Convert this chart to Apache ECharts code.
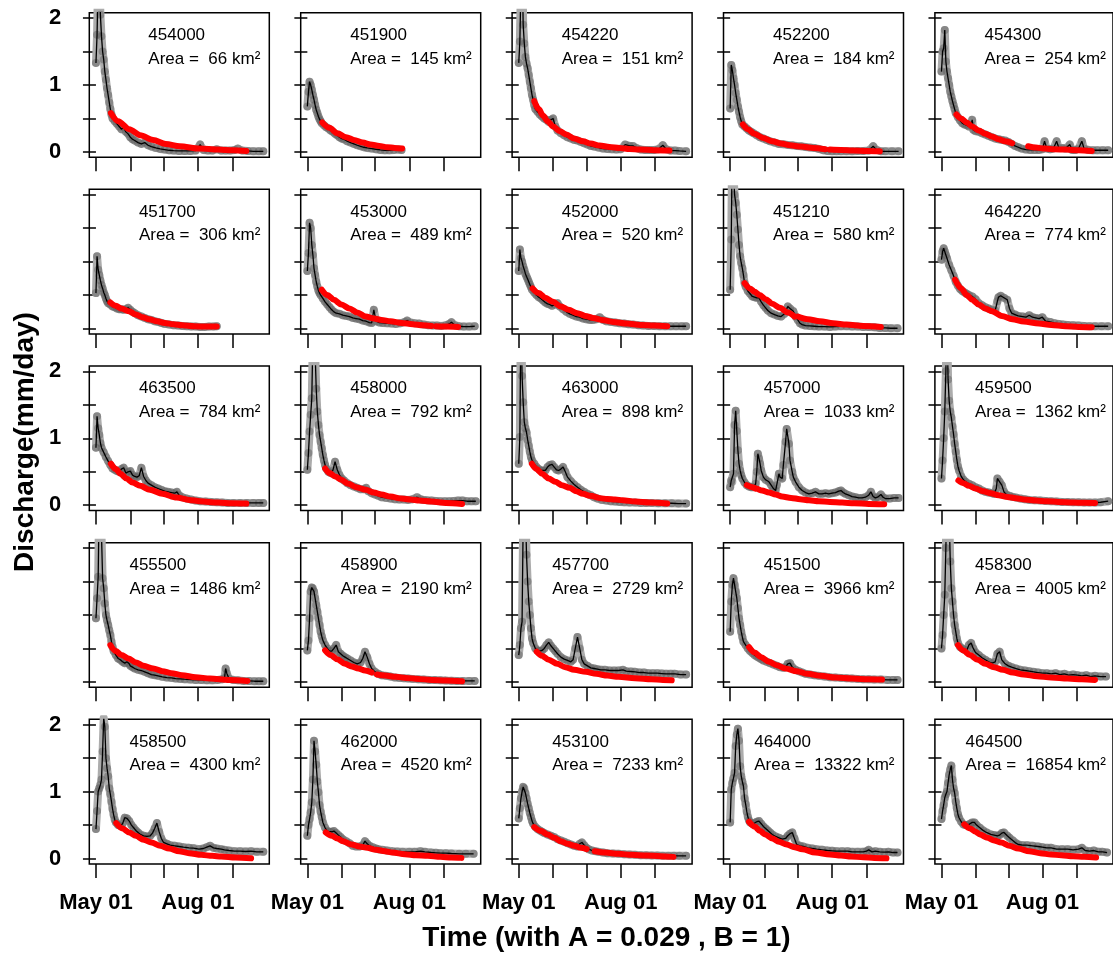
<!DOCTYPE html>
<html><head><meta charset="utf-8">
<script src="https://cdn.jsdelivr.net/npm/echarts@6/dist/echarts.min.js"></script>
<style>html,body{margin:0;padding:0;background:#fff}#c{width:1113px;height:958px}</style>
</head><body><div id="c"></div>
<script>
// Station ids and catchment areas (km2), panel order left-to-right, top-to-bottom
const stations = ['454000','451900','454220','452200','454300','451700','453000','452000','451210','464220','463500','458000','463000','457000','459500','455500','458900','457700','451500','458300','458500','462000','453100','464000','464500'];
const areas = [66,145,151,184,254,306,489,520,580,774,784,792,898,1033,1362,1486,2190,2729,3966,4005,4300,4520,7233,13322,16854];
// x values are days after May 01; ticks at month starts
const monthTickDays = [0,31,61,92,123];
const monthLabelDays = [0,92];
const monthLabels = ['May 01','Aug 01'];
const yTickValues = [0,0.5,1,1.5,2];
const yLabelValues = [0,1,2];
const xTitle = 'Time (with A = 0.029 , B = 1)';
const yTitle = 'Discharge(mm/day)';

// observed discharge [day, mm/day]
const obs_454000 = [[0,1.33],[1,1.75],[2,2.6],[3,2.8],[4,2.05],[5,1.73],[6,1.5],[7,1.38],[8,1.2],[9,1.08],[10,0.95],[11,0.85],[12,0.74],[13,0.64],[14,0.56],[15,0.5],[17,0.46],[19,0.42],[21,0.38],[23,0.34],[25,0.37],[27,0.3],[29,0.27],[31,0.22],[33,0.19],[35,0.17],[38,0.14],[41,0.12],[44,0.14],[47,0.1],[50,0.08],[54,0.06],[58,0.045],[62,0.035],[66,0.025],[70,0.02],[75,0.015],[80,0.015],[85,0.015],[90,0.02],[94,0.11],[97,0.03],[101,0.02],[105,0.02],[109,0.04],[113,0.02],[117,0.02],[121,0.02],[125,0.03],[128,0.05],[132,0.02],[137,0.015],[142,0.01],[147,0.01],[151,0.01]];
const obs_451900 = [[0,0.68],[1,0.9],[2,1.05],[3,1.0],[4,0.93],[5,0.85],[6,0.78],[7,0.7],[8,0.63],[9,0.58],[10,0.53],[11,0.49],[12,0.46],[13,0.43],[15,0.4],[17,0.37],[19,0.35],[21,0.32],[23,0.3],[25,0.27],[27,0.25],[29,0.22],[31,0.2],[33,0.19],[36,0.16],[39,0.14],[42,0.12],[45,0.1],[48,0.085],[51,0.07],[54,0.06],[58,0.05],[62,0.04],[66,0.03],[70,0.025],[74,0.025],[78,0.03],[82,0.035],[85,0.03]];
const obs_454220 = [[0,1.33],[1,1.65],[2,2.5],[3,2.9],[4,1.9],[5,1.62],[6,1.42],[7,1.32],[8,1.25],[9,1.15],[10,1.05],[11,0.95],[12,0.85],[13,0.78],[14,0.7],[15,0.64],[17,0.6],[19,0.56],[21,0.53],[23,0.5],[25,0.48],[27,0.45],[29,0.48],[31,0.5],[33,0.38],[35,0.32],[38,0.28],[41,0.25],[44,0.22],[47,0.2],[50,0.18],[53,0.17],[56,0.15],[59,0.13],[62,0.11],[65,0.09],[68,0.08],[72,0.065],[76,0.05],[80,0.045],[84,0.04],[88,0.035],[92,0.04],[96,0.11],[100,0.09],[103,0.09],[106,0.06],[110,0.035],[114,0.03],[118,0.03],[122,0.03],[126,0.04],[130,0.1],[133,0.04],[137,0.02],[141,0.02],[145,0.015],[151,0.01]];
const obs_452200 = [[0,0.65],[1,1.3],[2,1.22],[3,1.1],[4,1.0],[5,0.88],[6,0.78],[7,0.68],[8,0.6],[9,0.52],[10,0.46],[11,0.41],[13,0.38],[15,0.35],[17,0.32],[19,0.3],[21,0.28],[24,0.25],[27,0.22],[30,0.2],[33,0.18],[36,0.16],[40,0.14],[44,0.12],[48,0.115],[52,0.105],[56,0.1],[60,0.09],[64,0.085],[68,0.075],[72,0.065],[76,0.06],[80,0.045],[84,0.025],[88,0.015],[92,0.01],[96,0.01],[100,0.01],[105,0.01],[110,0.01],[115,0.015],[120,0.015],[125,0.02],[129,0.085],[132,0.03],[136,0.01],[140,0.01],[146,0.01],[152,0.01]];
const obs_454300 = [[0,1.2],[1,1.5],[2,1.55],[3,1.82],[4,1.35],[5,1.2],[6,1.1],[7,1.0],[8,0.9],[9,0.83],[10,0.76],[11,0.7],[12,0.64],[13,0.58],[15,0.52],[17,0.47],[19,0.43],[21,0.41],[23,0.4],[25,0.38],[27,0.4],[28,0.48],[29,0.33],[31,0.31],[34,0.3],[37,0.28],[40,0.26],[43,0.24],[46,0.22],[49,0.2],[52,0.19],[55,0.18],[58,0.17],[61,0.15],[64,0.12],[67,0.09],[70,0.07],[73,0.05],[77,0.035],[81,0.03],[85,0.03],[89,0.03],[92,0.04],[94,0.16],[96,0.05],[99,0.04],[102,0.05],[105,0.16],[107,0.06],[110,0.06],[113,0.05],[117,0.11],[119,0.03],[122,0.03],[125,0.05],[128,0.16],[130,0.05],[134,0.03],[138,0.025],[142,0.025],[147,0.025],[152,0.025]];
const obs_451700 = [[0,0.53],[1,1.08],[2,0.88],[3,0.8],[4,0.72],[5,0.65],[6,0.6],[7,0.54],[8,0.5],[9,0.45],[10,0.41],[11,0.38],[13,0.36],[15,0.33],[17,0.32],[19,0.3],[21,0.29],[23,0.29],[25,0.28],[27,0.29],[29,0.31],[31,0.28],[33,0.25],[35,0.23],[38,0.2],[41,0.18],[44,0.16],[47,0.14],[50,0.13],[53,0.11],[56,0.1],[59,0.085],[62,0.07],[66,0.06],[70,0.05],[74,0.045],[78,0.04],[82,0.035],[86,0.03],[90,0.03],[94,0.025],[98,0.025],[102,0.03],[106,0.03],[109,0.035]];
const obs_453000 = [[0,0.86],[1,1.13],[2,1.58],[3,1.5],[4,1.25],[5,1.1],[6,0.9],[7,0.8],[8,0.7],[9,0.63],[10,0.57],[11,0.53],[12,0.5],[14,0.45],[16,0.4],[18,0.36],[20,0.32],[22,0.28],[24,0.25],[26,0.23],[29,0.22],[32,0.2],[35,0.19],[38,0.18],[41,0.16],[44,0.15],[47,0.14],[50,0.12],[53,0.11],[56,0.09],[58,0.085],[60,0.28],[62,0.11],[65,0.09],[68,0.085],[72,0.08],[76,0.075],[80,0.07],[84,0.08],[88,0.1],[90,0.12],[93,0.09],[97,0.08],[101,0.075],[105,0.06],[109,0.05],[113,0.045],[117,0.045],[121,0.04],[125,0.05],[128,0.07],[130,0.095],[133,0.05],[137,0.035],[141,0.03],[146,0.03],[151,0.035]];
const obs_452000 = [[0,0.86],[1,1.18],[2,1.05],[3,1.0],[4,0.93],[5,0.88],[6,0.82],[7,0.78],[8,0.74],[9,0.7],[10,0.66],[11,0.62],[12,0.58],[14,0.54],[16,0.5],[18,0.47],[20,0.45],[22,0.42],[24,0.39],[26,0.37],[28,0.36],[30,0.34],[33,0.36],[35,0.38],[37,0.33],[40,0.29],[43,0.25],[46,0.22],[49,0.2],[52,0.18],[55,0.17],[58,0.15],[61,0.14],[64,0.13],[67,0.13],[70,0.14],[73,0.17],[76,0.13],[79,0.11],[83,0.1],[87,0.09],[91,0.08],[95,0.075],[99,0.065],[103,0.06],[108,0.05],[112,0.045],[117,0.04],[122,0.04],[127,0.035],[132,0.035],[137,0.035],[142,0.035],[147,0.035],[151,0.035]];
const obs_451210 = [[0,0.58],[1,1.33],[2,3.0],[3,2.3],[4,2.0],[5,1.88],[6,1.7],[7,1.48],[8,1.25],[9,1.08],[10,0.98],[11,0.9],[12,0.8],[13,0.68],[14,0.63],[16,0.56],[18,0.52],[20,0.48],[22,0.47],[24,0.46],[26,0.46],[28,0.4],[30,0.35],[32,0.31],[34,0.27],[37,0.23],[40,0.21],[43,0.19],[46,0.18],[49,0.22],[52,0.33],[54,0.3],[57,0.26],[59,0.18],[61,0.13],[63,0.08],[65,0.06],[68,0.045],[72,0.04],[76,0.035],[80,0.03],[85,0.03],[90,0.025],[95,0.03],[100,0.035],[105,0.035],[110,0.03],[115,0.03],[120,0.025],[125,0.025],[130,0.02],[135,0.01],[140,0.01],[145,0.005],[151,0.005]];
const obs_464220 = [[0,1.03],[1,1.15],[2,1.2],[3,1.15],[4,1.1],[5,1.05],[7,0.95],[9,0.87],[11,0.79],[13,0.7],[15,0.64],[17,0.59],[19,0.56],[21,0.54],[23,0.52],[25,0.5],[28,0.48],[31,0.44],[34,0.38],[37,0.35],[40,0.32],[43,0.3],[46,0.28],[49,0.27],[51,0.41],[52,0.47],[54,0.49],[57,0.46],[60,0.43],[62,0.3],[64,0.23],[67,0.21],[70,0.19],[74,0.18],[77,0.17],[80,0.2],[83,0.17],[86,0.16],[89,0.15],[92,0.17],[95,0.11],[99,0.1],[103,0.08],[107,0.07],[111,0.06],[115,0.055],[120,0.05],[125,0.045],[130,0.04],[135,0.035],[140,0.035],[146,0.035],[152,0.035]];
const obs_463500 = [[0,0.86],[1,1.33],[2,1.15],[3,1.05],[4,0.93],[5,0.86],[7,0.79],[9,0.72],[11,0.66],[13,0.6],[15,0.55],[17,0.53],[19,0.51],[21,0.5],[23,0.54],[25,0.56],[27,0.48],[29,0.5],[31,0.51],[33,0.45],[35,0.43],[37,0.42],[39,0.44],[41,0.56],[43,0.43],[45,0.37],[47,0.33],[50,0.3],[53,0.27],[56,0.25],[59,0.23],[62,0.21],[65,0.2],[68,0.19],[71,0.18],[73,0.2],[75,0.15],[78,0.12],[82,0.1],[86,0.085],[90,0.07],[94,0.06],[99,0.055],[104,0.05],[109,0.045],[114,0.04],[119,0.035],[124,0.035],[130,0.035],[136,0.035],[142,0.035],[147,0.035],[151,0.035]];
const obs_458000 = [[0,0.53],[1,0.78],[2,1.1],[3,1.35],[4,1.6],[5,2.5],[6,3.0],[7,2.3],[8,1.74],[9,1.4],[10,1.2],[11,1.05],[12,0.95],[13,0.85],[14,0.75],[15,0.67],[16,0.6],[17,0.55],[19,0.5],[21,0.48],[23,0.52],[25,0.65],[27,0.53],[29,0.45],[31,0.4],[33,0.37],[36,0.33],[39,0.3],[42,0.28],[45,0.26],[48,0.24],[51,0.24],[53,0.26],[55,0.21],[58,0.18],[61,0.16],[64,0.14],[67,0.12],[71,0.11],[75,0.1],[79,0.09],[83,0.085],[87,0.085],[91,0.08],[95,0.09],[99,0.12],[102,0.09],[105,0.08],[108,0.075],[112,0.07],[116,0.065],[120,0.06],[124,0.06],[128,0.06],[132,0.065],[136,0.07],[140,0.07],[144,0.06],[148,0.06],[152,0.06]];
const obs_463000 = [[0,0.62],[1,1.02],[2,3.0],[3,1.93],[4,1.54],[5,1.24],[6,1.15],[7,1.09],[8,0.98],[9,0.89],[10,0.8],[11,0.72],[12,0.67],[14,0.62],[16,0.57],[18,0.54],[20,0.52],[22,0.52],[24,0.52],[26,0.57],[28,0.6],[30,0.61],[32,0.57],[34,0.53],[36,0.52],[38,0.54],[40,0.57],[42,0.5],[44,0.42],[47,0.36],[50,0.31],[53,0.27],[56,0.23],[59,0.2],[62,0.17],[65,0.15],[68,0.12],[71,0.1],[75,0.08],[79,0.07],[83,0.06],[87,0.055],[91,0.05],[95,0.045],[100,0.04],[105,0.04],[110,0.035],[115,0.035],[120,0.035],[126,0.03],[132,0.03],[138,0.03],[144,0.025],[151,0.025]];
const obs_457000 = [[0,0.27],[1,0.37],[2,0.35],[3,0.47],[4,1.2],[5,1.41],[6,1.11],[7,0.82],[8,0.62],[9,0.52],[10,0.45],[11,0.4],[13,0.34],[15,0.3],[17,0.28],[19,0.27],[21,0.27],[23,0.32],[24,0.5],[25,0.77],[26,0.7],[27,0.62],[28,0.52],[30,0.42],[32,0.38],[35,0.35],[37,0.3],[39,0.25],[41,0.22],[42,0.3],[44,0.47],[45,0.42],[47,0.4],[48,0.6],[50,0.95],[51,1.14],[53,0.92],[54,0.67],[56,0.5],[57,0.42],[59,0.35],[62,0.27],[65,0.22],[68,0.19],[71,0.17],[74,0.18],[77,0.2],[80,0.17],[83,0.17],[86,0.18],[89,0.17],[92,0.18],[95,0.19],[98,0.21],[100,0.22],[102,0.19],[104,0.17],[107,0.15],[110,0.13],[113,0.12],[116,0.11],[119,0.11],[122,0.12],[125,0.15],[127,0.2],[129,0.13],[131,0.11],[133,0.12],[136,0.16],[138,0.12],[140,0.1],[144,0.1],[148,0.11],[152,0.11]];
const obs_459500 = [[0,0.4],[1,0.67],[2,1.0],[3,1.4],[4,2.0],[5,2.9],[6,1.88],[7,1.56],[8,1.4],[9,1.31],[10,1.18],[11,1.06],[12,0.92],[13,0.8],[14,0.68],[15,0.58],[16,0.52],[18,0.43],[20,0.38],[22,0.35],[25,0.32],[28,0.3],[31,0.27],[34,0.25],[37,0.22],[40,0.2],[43,0.19],[46,0.18],[48,0.17],[50,0.25],[51,0.4],[53,0.35],[55,0.3],[57,0.2],[59,0.16],[62,0.14],[65,0.125],[68,0.115],[72,0.1],[76,0.09],[80,0.08],[85,0.075],[90,0.07],[95,0.065],[100,0.06],[105,0.055],[110,0.05],[115,0.05],[120,0.045],[125,0.045],[130,0.04],[135,0.04],[140,0.04],[145,0.045],[152,0.06]];
const obs_455500 = [[0,0.95],[1,1.25],[2,1.57],[3,2.8],[4,3.2],[5,2.2],[6,1.55],[7,1.4],[8,1.17],[9,1.0],[10,0.92],[11,0.85],[12,0.77],[13,0.7],[14,0.6],[15,0.52],[16,0.46],[18,0.4],[20,0.35],[22,0.33],[24,0.3],[26,0.28],[28,0.3],[30,0.27],[31,0.24],[33,0.22],[35,0.2],[38,0.18],[41,0.17],[44,0.15],[47,0.13],[50,0.11],[53,0.1],[56,0.09],[60,0.075],[64,0.065],[68,0.06],[72,0.05],[76,0.045],[80,0.04],[85,0.035],[90,0.03],[95,0.03],[100,0.025],[105,0.025],[110,0.03],[114,0.04],[116,0.06],[117,0.2],[118,0.13],[120,0.05],[124,0.03],[128,0.025],[133,0.015],[138,0.015],[143,0.01],[147,0.01],[151,0.01]];
const obs_458900 = [[0,0.47],[1,0.62],[2,0.95],[3,1.35],[4,1.41],[5,1.4],[6,1.35],[7,1.25],[8,1.15],[9,1.05],[10,0.95],[11,0.85],[12,0.75],[13,0.68],[14,0.62],[16,0.55],[18,0.5],[20,0.46],[22,0.46],[24,0.5],[26,0.55],[28,0.45],[30,0.42],[32,0.39],[34,0.37],[36,0.35],[39,0.32],[42,0.29],[45,0.27],[48,0.29],[50,0.35],[52,0.45],[54,0.37],[56,0.27],[58,0.2],[61,0.15],[64,0.12],[67,0.1],[71,0.09],[75,0.08],[79,0.065],[83,0.06],[87,0.055],[91,0.05],[95,0.045],[100,0.04],[105,0.035],[110,0.03],[115,0.027],[120,0.025],[125,0.02],[130,0.018],[135,0.015],[140,0.015],[146,0.015],[151,0.015]];
const obs_457700 = [[0,0.4],[1,0.55],[2,0.8],[3,0.9],[4,2.4],[5,3.2],[6,2.6],[7,1.9],[8,1.5],[9,1.2],[10,1.0],[11,0.8],[12,0.65],[13,0.58],[15,0.5],[17,0.47],[19,0.46],[21,0.47],[23,0.5],[25,0.55],[27,0.59],[29,0.54],[31,0.5],[33,0.46],[35,0.42],[38,0.37],[41,0.34],[44,0.32],[47,0.3],[49,0.33],[51,0.5],[53,0.67],[55,0.5],[57,0.33],[59,0.27],[62,0.24],[65,0.21],[68,0.2],[71,0.19],[74,0.18],[78,0.18],[82,0.17],[86,0.17],[90,0.17],[94,0.18],[97,0.16],[101,0.155],[105,0.15],[109,0.14],[113,0.14],[117,0.13],[121,0.13],[125,0.13],[129,0.125],[133,0.12],[137,0.12],[141,0.12],[146,0.11],[151,0.11]];
const obs_451500 = [[0,0.75],[1,1.2],[2,1.45],[3,1.55],[4,1.45],[5,1.35],[6,1.25],[7,1.1],[8,0.95],[9,0.85],[10,0.75],[11,0.67],[12,0.6],[14,0.55],[16,0.5],[18,0.46],[20,0.43],[22,0.4],[24,0.38],[26,0.36],[28,0.34],[30,0.32],[33,0.3],[36,0.28],[39,0.26],[42,0.24],[45,0.22],[48,0.21],[50,0.22],[52,0.27],[54,0.28],[56,0.22],[59,0.18],[62,0.16],[65,0.14],[68,0.12],[72,0.11],[76,0.1],[80,0.09],[85,0.08],[90,0.07],[95,0.065],[100,0.06],[105,0.055],[110,0.05],[115,0.045],[120,0.04],[125,0.04],[130,0.035],[136,0.035],[142,0.03],[147,0.03],[151,0.03]];
const obs_458300 = [[0,0.5],[1,0.7],[2,1.0],[3,1.3],[4,2.0],[5,2.8],[6,3.2],[7,2.5],[8,1.8],[9,1.4],[10,1.2],[11,1.0],[12,0.85],[13,0.75],[14,0.65],[15,0.58],[17,0.52],[19,0.5],[21,0.48],[23,0.47],[25,0.55],[27,0.58],[29,0.5],[31,0.44],[34,0.4],[37,0.36],[40,0.33],[43,0.3],[46,0.28],[49,0.3],[51,0.42],[53,0.45],[55,0.33],[58,0.27],[61,0.24],[64,0.22],[68,0.2],[72,0.18],[76,0.17],[80,0.16],[84,0.15],[88,0.14],[92,0.13],[96,0.13],[100,0.12],[104,0.13],[108,0.11],[112,0.12],[116,0.1],[120,0.11],[124,0.1],[128,0.09],[132,0.1],[136,0.08],[140,0.09],[145,0.08],[150,0.08]];
const obs_458500 = [[0,0.44],[1,0.71],[2,1.0],[3,1.05],[4,1.1],[5,1.18],[6,1.6],[7,2.1],[8,1.97],[9,1.5],[10,1.35],[11,1.23],[12,1.05],[13,0.96],[14,0.85],[15,0.74],[16,0.65],[17,0.58],[18,0.54],[20,0.5],[22,0.49],[24,0.52],[26,0.61],[28,0.6],[30,0.56],[32,0.5],[34,0.46],[36,0.42],[38,0.39],[40,0.36],[43,0.34],[46,0.33],[49,0.34],[51,0.38],[53,0.45],[55,0.53],[57,0.4],[59,0.3],[61,0.24],[64,0.22],[67,0.2],[71,0.19],[75,0.18],[79,0.17],[84,0.16],[88,0.155],[93,0.14],[97,0.15],[100,0.17],[103,0.19],[106,0.16],[109,0.15],[113,0.14],[116,0.13],[120,0.12],[125,0.11],[130,0.11],[135,0.105],[140,0.11],[145,0.1],[151,0.1]];
const obs_462000 = [[0,0.34],[1,0.5],[2,0.59],[3,0.69],[4,0.84],[5,1.18],[6,1.76],[7,1.6],[8,1.4],[9,1.15],[10,0.99],[11,0.8],[12,0.7],[13,0.62],[14,0.54],[16,0.46],[18,0.41],[20,0.4],[22,0.4],[24,0.41],[26,0.38],[28,0.35],[30,0.32],[32,0.29],[35,0.26],[38,0.23],[41,0.19],[44,0.18],[47,0.18],[50,0.2],[52,0.26],[54,0.22],[56,0.19],[59,0.17],[62,0.15],[64,0.14],[68,0.13],[72,0.12],[77,0.11],[81,0.105],[86,0.1],[92,0.1],[97,0.1],[102,0.11],[106,0.1],[112,0.09],[116,0.085],[120,0.08],[125,0.08],[130,0.075],[137,0.07],[143,0.07],[150,0.07]];
const obs_453100 = [[0,0.6],[1,0.75],[2,0.9],[3,1.0],[4,1.07],[5,1.05],[6,0.98],[7,0.9],[8,0.82],[9,0.75],[10,0.68],[11,0.62],[12,0.56],[13,0.52],[15,0.47],[17,0.44],[19,0.42],[21,0.4],[23,0.38],[26,0.36],[29,0.34],[32,0.32],[35,0.29],[38,0.27],[41,0.25],[44,0.23],[47,0.21],[50,0.19],[53,0.18],[55,0.22],[57,0.24],[59,0.2],[61,0.16],[63,0.14],[66,0.12],[69,0.11],[72,0.1],[76,0.09],[80,0.08],[85,0.075],[90,0.07],[95,0.065],[100,0.06],[105,0.055],[110,0.05],[115,0.05],[120,0.045],[125,0.045],[130,0.04],[135,0.04],[140,0.04],[145,0.04],[151,0.04]];
const obs_464000 = [[0,0.54],[1,1.03],[2,1.13],[3,1.2],[4,1.28],[5,1.68],[6,1.85],[7,1.94],[8,1.76],[9,1.38],[10,1.23],[11,1.15],[12,1.08],[13,0.9],[14,0.81],[15,0.7],[16,0.62],[17,0.57],[18,0.54],[20,0.52],[22,0.53],[24,0.55],[26,0.56],[28,0.52],[30,0.48],[32,0.45],[34,0.42],[36,0.39],[38,0.36],[41,0.33],[44,0.31],[47,0.29],[50,0.3],[52,0.34],[54,0.37],[56,0.39],[58,0.3],[60,0.21],[63,0.19],[66,0.18],[70,0.16],[74,0.15],[78,0.14],[83,0.13],[88,0.12],[92,0.115],[96,0.11],[101,0.11],[106,0.11],[110,0.1],[115,0.1],[120,0.1],[123,0.11],[125,0.13],[128,0.1],[131,0.11],[135,0.1],[139,0.095],[143,0.1],[147,0.09],[151,0.09]];
const obs_464500 = [[0,0.59],[1,0.71],[2,0.8],[3,0.91],[4,0.96],[5,1.0],[6,1.13],[7,1.25],[8,1.33],[9,1.39],[10,1.18],[11,1.05],[12,0.98],[13,0.85],[14,0.75],[15,0.66],[16,0.61],[18,0.55],[20,0.51],[22,0.5],[24,0.5],[26,0.52],[28,0.54],[30,0.54],[32,0.5],[35,0.46],[38,0.42],[41,0.39],[45,0.36],[48,0.35],[51,0.34],[53,0.35],[55,0.38],[57,0.39],[60,0.34],[62,0.31],[65,0.27],[68,0.23],[70,0.21],[74,0.2],[78,0.2],[83,0.19],[88,0.18],[92,0.17],[96,0.16],[100,0.16],[105,0.14],[110,0.14],[115,0.14],[120,0.13],[125,0.14],[128,0.16],[131,0.12],[135,0.11],[139,0.12],[143,0.1],[147,0.1],[151,0.09]];

// fitted recession curve segments [day, mm/day]
const fit_454000 = [[[13.5,0.58],[20,0.46],[30,0.34],[40,0.25],[51.6,0.18],[63,0.12],[75.6,0.085],[93.7,0.05],[110,0.035],[123.7,0.025],[135.7,0.015]]];
const fit_451900 = [[[13.5,0.44],[20,0.36],[27,0.28],[35,0.22],[42,0.18],[50,0.14],[57,0.11],[65,0.09],[72,0.07],[79,0.06],[85.5,0.05]]];
const fit_454220 = [[[14,0.76],[18,0.64],[22,0.54],[26,0.46],[31,0.38],[37,0.31],[43,0.26],[50,0.2],[58,0.16],[65,0.125],[73,0.095],[82,0.075],[91,0.06],[100,0.045],[109,0.035],[122,0.027],[136,0.02]]];
const fit_452200 = [[[11.5,0.41],[16,0.34],[22,0.27],[29.7,0.21],[38,0.16],[46,0.125],[54,0.1],[64,0.08],[75,0.06],[85.8,0.04]],[[90,0.035],[100,0.03],[111,0.02],[123,0.015],[135,0.01]]];
const fit_454300 = [[[13.6,0.56],[18,0.5],[23,0.44],[28,0.38],[34,0.32],[40,0.27],[46,0.23],[52,0.19],[58,0.16],[64.5,0.13]],[[79,0.085],[86,0.065],[94.5,0.05],[103,0.04],[113,0.035],[125,0.025],[137,0.015]]];
const fit_451700 = [[[13,0.39],[18,0.34],[23,0.3],[29.5,0.26],[36,0.21],[42,0.17],[48,0.14],[55,0.11],[62,0.085],[70,0.065],[78,0.05],[88.6,0.035],[98,0.03],[109,0.03]]];
const fit_453000 = [[[13,0.58],[18,0.5],[24,0.43],[30.7,0.36],[38,0.3],[45,0.24],[52.8,0.18],[60,0.15],[67,0.13],[75,0.11],[85,0.085],[95,0.065],[104,0.05],[112,0.04]],[[116,0.035],[125,0.03],[136,0.025]]];
const fit_452000 = [[[12.5,0.6],[18,0.53],[24,0.46],[31,0.4],[38,0.33],[45,0.28],[53,0.23],[60,0.19],[67,0.16],[75,0.13],[85,0.1],[97.5,0.075],[110,0.055],[122,0.045],[134,0.035]]];
const fit_451210 = [[[13,0.68],[18,0.6],[22,0.55],[26.7,0.5],[32,0.44],[38,0.37],[45,0.31],[52,0.24],[58,0.18]],[[61,0.18],[70,0.14],[81,0.11],[93,0.08],[105,0.06],[120,0.04],[136,0.025]]];
const fit_464220 = [[[12.4,0.73],[18,0.6],[23,0.5],[28,0.43],[34,0.36],[40,0.3],[46,0.26],[55,0.19],[64.5,0.14],[75,0.105],[88.8,0.075],[100,0.055],[113,0.035],[125,0.025],[137,0.02]]];
const fit_463500 = [[[13.5,0.62],[18,0.54],[22,0.47],[27.6,0.4],[33,0.34],[40,0.29],[48.6,0.23],[60,0.17],[72.7,0.115],[84,0.08],[93.7,0.06],[110,0.04],[123,0.03],[135.7,0.025]]];
const fit_458000 = [[[16,0.55],[20,0.48],[25,0.43],[30.7,0.38],[37,0.32],[44,0.27],[52.8,0.23],[60,0.19],[67,0.16],[75,0.13],[85,0.1],[93,0.085],[101,0.07],[112,0.055],[125,0.035],[139.6,0.02]]];
const fit_463000 = [[[11.8,0.62],[16,0.54],[21,0.47],[27,0.4],[33,0.35],[39,0.3],[45.8,0.26],[52,0.21],[58,0.17],[64,0.14],[69.8,0.12]],[[72,0.11],[80,0.095],[87,0.085],[93.8,0.075],[105,0.055],[118,0.04],[134,0.025]]];
const fit_457000 = [[[15,0.3],[20,0.27],[24,0.245],[28.7,0.22],[35,0.19],[41,0.16],[46.8,0.13],[55,0.11],[63,0.09],[71,0.075],[80,0.06],[90,0.05],[101,0.04],[112,0.03],[125,0.02],[139,0.015]]];
const fit_459500 = [[[15.4,0.37],[20,0.33],[25,0.29],[31,0.25],[38,0.21],[45,0.18],[52,0.15],[60,0.125],[68,0.105],[76,0.085],[86,0.07],[96,0.06],[106.6,0.05],[120,0.04],[130,0.037],[140,0.035]]];
const fit_455500 = [[[13,0.55],[18,0.46],[23,0.4],[29.5,0.35],[36,0.29],[43,0.24],[51.7,0.2],[60,0.16],[68,0.13],[77.6,0.1],[90,0.07],[103,0.05],[120,0.03],[136.7,0.015]]];
const fit_458900 = [[[16,0.47],[21,0.4],[27,0.34],[34,0.27],[40,0.23],[46,0.2],[52,0.17],[58,0.14]],[[62.8,0.11],[70,0.095],[80,0.075],[89,0.06],[100,0.045],[112,0.03],[125,0.02],[139.6,0.01]]];
const fit_457700 = [[[16.2,0.45],[21,0.39],[27,0.33],[34.7,0.27],[42,0.22],[50,0.18],[60.6,0.15],[70,0.12],[80,0.095],[90,0.075],[105,0.055],[119.7,0.04],[130,0.03],[138,0.025]]];
const fit_451500 = [[[17,0.52],[22,0.44],[28,0.37],[35,0.3],[42,0.25],[50,0.2],[60,0.16],[70,0.12],[82,0.09],[95,0.065],[110,0.05],[125,0.04],[137,0.035]]];
const fit_458300 = [[[15,0.55],[20,0.47],[26,0.4],[33,0.33],[40,0.27],[48,0.22],[56,0.18],[65,0.14],[75,0.11],[87,0.085],[100,0.065],[115,0.05],[128,0.04],[140,0.03]]];
const fit_458500 = [[[18.3,0.53],[24,0.45],[30,0.39],[35.9,0.34],[43,0.28],[50,0.24],[58,0.19],[66,0.15],[75,0.11],[84,0.08],[95,0.055],[105,0.04],[113,0.03],[126,0.015],[140,0.005]]];
const fit_462000 = [[[16.6,0.39],[22,0.34],[27,0.3],[32,0.26],[40,0.21],[47,0.18],[54,0.16],[62,0.13],[70,0.11],[76.7,0.09],[88,0.065],[98,0.05],[108.6,0.04],[120,0.025],[130,0.015],[139,0.01]]];
const fit_453100 = [[[14,0.47],[20,0.41],[26,0.36],[32,0.31],[38,0.26],[44,0.22],[50,0.19],[56,0.16],[61.3,0.14]],[[68.5,0.11],[78,0.09],[90,0.07],[102,0.055],[115,0.045],[128,0.035],[139.6,0.025]]];
const fit_464000 = [[[17,0.55],[22,0.48],[27,0.41],[31.6,0.36],[38,0.3],[44,0.25],[51,0.21],[58,0.17],[65,0.14],[76.8,0.09],[90,0.06],[100,0.045],[109,0.03],[120,0.02],[130,0.01],[141,0.003]]];
const fit_464500 = [[[20.8,0.51],[26,0.45],[31,0.4],[35,0.36],[42,0.31],[48,0.27],[54.4,0.24],[62,0.19],[70,0.15],[80,0.11],[90,0.08],[100,0.06],[109,0.05],[120,0.035],[130,0.025],[141,0.015]]];

const obsList = [obs_454000,obs_451900,obs_454220,obs_452200,obs_454300,obs_451700,obs_453000,obs_452000,obs_451210,obs_464220,obs_463500,obs_458000,obs_463000,obs_457000,obs_459500,obs_455500,obs_458900,obs_457700,obs_451500,obs_458300,obs_458500,obs_462000,obs_453100,obs_464000,obs_464500];
const fitList = [fit_454000,fit_451900,fit_454220,fit_452200,fit_454300,fit_451700,fit_453000,fit_452000,fit_451210,fit_464220,fit_463500,fit_458000,fit_463000,fit_457000,fit_459500,fit_455500,fit_458900,fit_457700,fit_451500,fit_458300,fit_458500,fit_462000,fit_453100,fit_464000,fit_464500];

const FONT = '"Liberation Sans", Arial, Helvetica, sans-serif';
const W = 1113;
const grids = [], xAxes = [], yAxes = [], series = [], graphics = [];
for (let i = 0; i < 25; i++) {
  const r = Math.floor(i / 5), c = i % 5;
  const left = 89.3 + 211.4 * c, top = 12.7 + 176.65 * r, w = 180, h = 144.6;
  grids.push({left: left, top: top, width: w, height: h, show: true, borderColor: '#000', borderWidth: 1.5, backgroundColor: 'transparent'});
  xAxes.push({
    type: 'value', gridIndex: i, min: -6, max: 156.4,
    axisLine: {show: false, onZero: false}, splitLine: {show: false},
    axisTick: {show: true, customValues: monthTickDays, length: 14, lineStyle: {color: '#000', width: 1.5}},
    axisLabel: {show: r === 4, customValues: monthLabelDays,
      formatter: function (v) { const k = monthLabelDays.indexOf(v); return k >= 0 ? monthLabels[k] : ''; },
      margin: 28, color: '#000', fontSize: 22, fontWeight: 'bold', fontFamily: FONT}
  });
  yAxes.push({
    type: 'value', gridIndex: i, min: -0.08, max: 2.08,
    axisLine: {show: false}, splitLine: {show: false},
    axisTick: {show: true, customValues: yTickValues, length: 13, lineStyle: {color: '#000', width: 1.5}},
    axisLabel: {show: c === 0 && r % 2 === 0, customValues: yLabelValues, margin: 28, color: '#000', fontSize: 22, fontWeight: 'bold', fontFamily: FONT}
  });
  const d = obsList[i];
  series.push({type: 'line', xAxisIndex: i, yAxisIndex: i, data: d, showSymbol: false, silent: true, z: 1,
    lineStyle: {color: '#acacac', width: 8, cap: 'round', join: 'round'}});
  series.push({type: 'scatter', xAxisIndex: i, yAxisIndex: i, data: d, symbolSize: 8, silent: true, z: 2,
    itemStyle: {color: 'rgba(95,95,95,0.6)'}});
  series.push({type: 'line', xAxisIndex: i, yAxisIndex: i, data: d, showSymbol: false, silent: true, z: 3,
    lineStyle: {color: '#000', width: 1.3}});
  fitList[i].forEach(function (seg) {
    series.push({type: 'line', xAxisIndex: i, yAxisIndex: i, data: seg, showSymbol: false, silent: true, z: 4,
      smooth: 0.3, smoothMonotone: 'x', lineStyle: {color: '#ff0000', width: 6, cap: 'round', join: 'round'}});
  });
  graphics.push({type: 'text', right: W - (left + w - 9), top: top + 11, z: 10,
    style: {text: stations[i] + '\nArea =  ' + areas[i] + ' km\u00B2', fill: '#000', fontSize: 17, fontFamily: FONT,
      lineHeight: 23.5, textAlign: 'left', align: 'left'}});
}
graphics.push({type: 'text', x: 606.5, y: 938, z: 10,
  style: {text: xTitle, fill: '#000', fontSize: 28, fontWeight: 'bold', fontFamily: FONT,
    textAlign: 'center', align: 'center', textVerticalAlign: 'middle', verticalAlign: 'middle'}});
graphics.push({type: 'text', x: 25, y: 442, rotation: Math.PI / 2, z: 10,
  style: {text: yTitle, fill: '#000', fontSize: 28, fontWeight: 'bold', fontFamily: FONT,
    textAlign: 'center', align: 'center', textVerticalAlign: 'middle', verticalAlign: 'middle'}});

const chart = echarts.init(document.getElementById('c'), null, {renderer: 'canvas'});
chart.setOption({animation: false, backgroundColor: '#fff', grid: grids, xAxis: xAxes, yAxis: yAxes, series: series, graphic: graphics});
</script></body></html>
